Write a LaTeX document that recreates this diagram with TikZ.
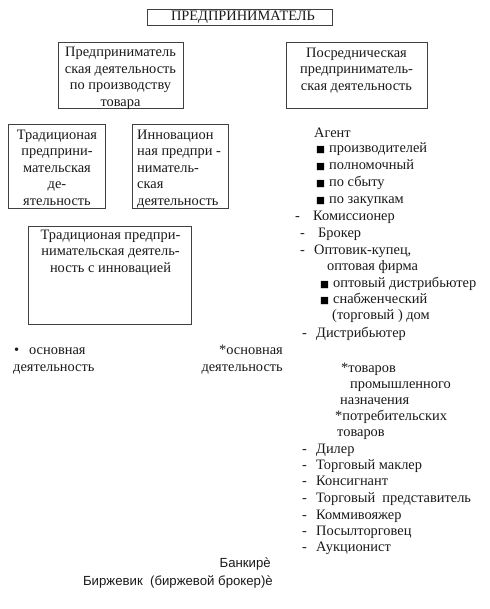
\documentclass[tikz,border=0pt]{standalone}
\usepackage{fontspec}
\setmainfont{Liberation Serif}
\newfontfamily\sansf{Liberation Sans}
\newfontfamily\symf{DejaVu Sans}
\begin{document}
\begin{tikzpicture}[x=1pt,y=-1pt,
  boxline/.style={draw=black!75,line width=0.9pt},
  txt/.style={inner sep=0pt,font=\fontsize{14.4}{16.6}\selectfont,text=black!90},
  lt/.style={txt,anchor=mid west},
  rt/.style={txt,anchor=mid east},
  ct/.style={txt,align=center,anchor=north},
  sq/.style={inner sep=0pt,anchor=mid west,font=\symf\fontsize{9.5}{10}\selectfont},
  sanst/.style={txt,anchor=mid east,font=\sansf\fontsize{13.2}{15}\selectfont},
]
\useasboundingbox (0,0) rectangle (489,609);
% boxes
\draw[boxline] (147,9) rectangle (332,25);
\node[txt] (top) at (243,17.5) {ПРЕДПРИНИМАТЕЛЬ};
\draw[boxline] (58,42) rectangle (183,108);
\node[ct] (prod) at (120.5,47) {Предприниматель\\ская деятельность\\по производству\\товара};
\draw[boxline] (286,42) rectangle (427,108);
\node[ct] (posr) at (356.5,47.5) {Посредническая\\предприниматель-\\ская деятельность};
\draw[boxline] (8,124) rectangle (105,208);
\node[ct] (trad) at (57,129.5) {Традиционая\\предприни-\\мательская\\де-\\ятельность};
\draw[boxline] (132,124) rectangle (228,208);
\node[txt,align=left,anchor=north west] (innov) at (137,129.5) {Инновацион\\ная предпри -\\ниматель-\\ская\\деятельность};
\draw[boxline] (28,226) rectangle (191,324);
\node[ct] (tradinn) at (110.5,229.5) {Традиционая предпри-\\нимательская деятель-\\ность с инновацией};
% right column
\node[lt] (agent) at (314,135) {Агент};
\node[sq] (b1) at (316,150.5) {■}; \node[lt] (t1) at (329,150.5) {производителей};
\node[sq] (b2) at (316,167) {■}; \node[lt] (t2) at (329,167) {полномочный};
\node[sq] (b3) at (316,184) {■}; \node[lt] (t3) at (329,184) {по сбыту};
\node[sq] (b4) at (316,201) {■}; \node[lt] (t4) at (329,201) {по закупкам};
\node[lt] (d1) at (295,218) {-}; \node[lt] (kom) at (313,218) {Комиссионер};
\node[lt] (d2) at (300,235) {-}; \node[lt] (brok) at (318,235) {Брокер};
\node[lt] (d3) at (300,252) {-}; \node[lt] (opt) at (314,252) {Оптовик-купец,};
\node[lt] (optf) at (327,268) {оптовая фирма};
\node[sq] (b5) at (320,285) {■}; \node[lt] (t5) at (333,285) {оптовый дистрибьютер};
\node[sq] (b6) at (320,301) {■}; \node[lt] (t6) at (333,301) {снабженческий};
\node[lt] (torg) at (332,317) {(торговый ) дом};
\node[lt] (d4) at (302,335) {-}; \node[lt] (distr) at (316,335) {Дистрибьютер};
% left notes
\node[lt] (dot) at (14,352) {•}; \node[lt] (osn1) at (29,352) {основная};
\node[lt] (deya1) at (13,369) {деятельность};
\node[rt] (osn2) at (283,352) {*основная};
\node[rt] (deya2) at (283,369) {деятельность};
% distributor details
\node[lt] (tov1) at (341,370) {*товаров};
\node[lt] (prom) at (350,386) {промышленного};
\node[lt] (nazn) at (340,402) {назначения};
\node[lt] (potr) at (335,418) {*потребительских};
\node[lt] (tov2) at (337,434) {товаров};
% list
\node[lt] (d5) at (302,451) {-}; \node[lt] (dil) at (316,451) {Дилер};
\node[lt] (d6) at (302,467) {-}; \node[lt] (makl) at (316,467) {Торговый маклер};
\node[lt] (d7) at (302,483) {-}; \node[lt] (kons) at (316,483) {Консигнант};
\node[lt] (d8) at (302,500) {-}; \node[lt] (pred) at (316,500) {Торговый\ \ представитель};
\node[lt] (d9) at (302,517) {-}; \node[lt] (komm) at (316,517) {Коммивояжер};
\node[lt] (d10) at (302,533) {-}; \node[lt] (posyl) at (316,533) {Посылторговец};
\node[lt] (d11) at (302,549) {-}; \node[lt] (auk) at (316,549) {Аукционист};
% bottom
\node[sanst] (bank) at (271,565) {Банкирѐ};
\node[sanst] (birzh) at (273,583) {Биржевик\ \ (биржевой брокер)ѐ};
\end{tikzpicture}
\end{document}
